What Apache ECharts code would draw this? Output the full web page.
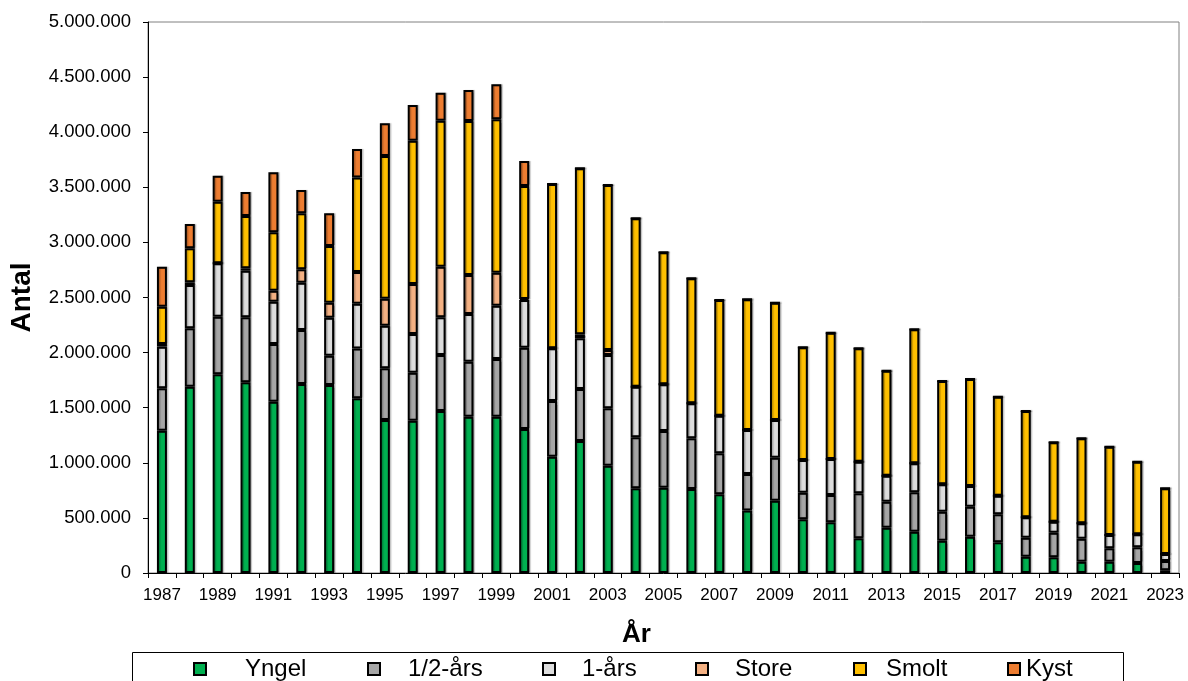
<!DOCTYPE html>
<html>
<head>
<meta charset="utf-8">
<script src="https://cdn.jsdelivr.net/npm/echarts@6/dist/echarts.min.js"></script>
<style>
  html, body { margin: 0; padding: 0; background: #fff; }
  #chart { width: 1188px; height: 681px; }
</style>
</head>
<body>
<div id="chart"></div>
<script>
// Udsatte fisk pr. år, fordelt på størrelse/type (antal)
const years = [
  '1987','1988','1989','1990','1991','1992','1993','1994','1995','1996',
  '1997','1998','1999','2000','2001','2002','2003','2004','2005','2006',
  '2007','2008','2009','2010','2011','2012','2013','2014','2015','2016',
  '2017','2018','2019','2020','2021','2022','2023'
];

const yngel = [
  1291000, 1690000, 1803000, 1730000, 1555000, 1715000, 1706000, 1585000, 1388000, 1382000,
  1470000, 1418000, 1418000, 1307000, 1055000, 1198000, 974000, 769000, 774000, 762000,
  714000, 568000, 656000, 487000, 460000, 315000, 411000, 375000, 293000, 330000,
  278000, 148000, 142000, 103000, 103000, 91000, 25000
];

const halvaars = [
  385000, 530000, 523000, 590000, 523000, 490000, 266000, 452000, 469000, 436000,
  508000, 500000, 524000, 737000, 505000, 472000, 520000, 462000, 515000, 460000,
  372000, 330000, 390000, 242000, 248000, 408000, 236000, 357000, 263000, 272000,
  254000, 173000, 224000, 208000, 121000, 142000, 84000
];

const etaars = [
  378000, 393000, 484000, 423000, 384000, 429000, 345000, 407000, 387000, 351000,
  342000, 432000, 484000, 433000, 479000, 460000, 484000, 459000, 423000, 318000,
  342000, 400000, 342000, 296000, 326000, 287000, 236000, 263000, 249000, 187000,
  170000, 184000, 100000, 140000, 121000, 118000, 63000
];

const store = [
  24000, 25000, 0, 22000, 100000, 122000, 136000, 288000, 245000, 453000,
  459000, 354000, 299000, 10000, 0, 36000, 46000, 0, 0, 0,
  0, 0, 0, 0, 0, 0, 0, 0, 0, 0,
  0, 0, 0, 0, 0, 0, 0
];

const smolt = [
  339000, 308000, 559000, 475000, 530000, 508000, 514000, 858000, 1295000, 1301000,
  1325000, 1398000, 1392000, 1025000, 1491000, 1506000, 1497000, 1529000, 1198000, 1134000,
  1049000, 1185000, 1065000, 1023000, 1147000, 1029000, 953000, 1216000, 937000, 971000,
  898000, 965000, 720000, 771000, 801000, 659000, 597000
];

const kyst = [
  362000, 221000, 236000, 217000, 544000, 212000, 297000, 257000, 297000, 324000,
  254000, 281000, 318000, 226000, 0, 0, 0, 0, 0, 0,
  0, 0, 0, 0, 0, 0, 0, 0, 0, 0,
  0, 0, 0, 0, 0, 0, 0
];

const seriesNames = ['Yngel', '1/2-års', '1-års', 'Store', 'Smolt', 'Kyst'];
const seriesData = [yngel, halvaars, etaars, store, smolt, kyst];
const seriesColors = ['#00B050', '#A6A6A6', '#DDDDDD', '#F4B183', '#FFC000', '#ED7D31'];

const FONT = '"Liberation Sans", Arial, sans-serif';

function thousands(v) {
  return String(v).replace(/\B(?=(\d{3})+(?!\d))/g, '.');
}

const series = seriesNames.map((name, i) => ({
  name: name,
  type: 'bar',
  stack: 'total',
  barWidth: 10,
  data: seriesData[i],
  itemStyle: {
    color: seriesColors[i],
    borderColor: '#000',
    borderWidth: 2,
    shadowColor: 'rgba(0,0,0,0.25)',
    shadowBlur: 1,
    shadowOffsetX: 1.5,
    shadowOffsetY: 0
  },
  emphasis: { disabled: true },
  animation: false
}));

// Legend entries placed one by one inside the framed box under the chart
const legendLefts = [193, 367, 542, 695, 853, 1007];
const legendTextPad = [34, 23, 22, 22, 15, 1];
const legends = seriesNames.map((name, i) => ({
  data: [name],
  left: legendLefts[i],
  top: 657,
  padding: 0,
  icon: 'rect',
  itemWidth: 12,
  itemHeight: 12,
  selectedMode: false,
  textStyle: {
    fontFamily: FONT,
    fontSize: 24,
    color: '#000',
    padding: [0, 0, 0, legendTextPad[i]]
  }
}));

const chart = echarts.init(document.getElementById('chart'), null, { renderer: 'canvas' });
chart.setOption({
  backgroundColor: '#fff',
  animation: false,
  grid: {
    left: 148,
    right: 9,
    top: 22,
    bottom: 108,
    show: true,
    borderColor: '#808080',
    borderWidth: 1,
    containLabel: false
  },
  legend: legends,
  graphic: [{
    type: 'rect',
    shape: { x: 132.5, y: 652.5, width: 991, height: 60 },
    style: { fill: 'none', stroke: '#000', lineWidth: 1 },
    silent: true
  }],
  xAxis: {
    type: 'category',
    data: years,
    boundaryGap: true,
    name: 'År',
    nameLocation: 'middle',
    nameGap: 49,
    nameTextStyle: {
      fontFamily: FONT, fontSize: 26, fontWeight: 'bold', color: '#000',
      padding: [0, 54, 0, 0]
    },
    axisLine: { lineStyle: { color: '#000', width: 1 } },
    axisTick: { show: true, interval: 0, length: 5, inside: false, lineStyle: { color: '#000' } },
    axisLabel: { interval: 1, fontFamily: FONT, fontSize: 17, color: '#000', margin: 14 },
    splitLine: { show: false }
  },
  yAxis: {
    type: 'value',
    min: 0,
    max: 5000000,
    interval: 500000,
    name: 'Antal',
    nameLocation: 'middle',
    nameRotate: 90,
    nameGap: 112,
    nameTextStyle: { fontFamily: FONT, fontSize: 28, fontWeight: 'bold', color: '#000' },
    axisLine: { show: true, lineStyle: { color: '#000', width: 1 } },
    axisTick: { show: true, length: 5, inside: false, lineStyle: { color: '#000' } },
    axisLabel: { fontFamily: FONT, fontSize: 18.5, color: '#000', margin: 17, formatter: thousands },
    splitLine: { show: false }
  },
  series: series
});
</script>
</body>
</html>
